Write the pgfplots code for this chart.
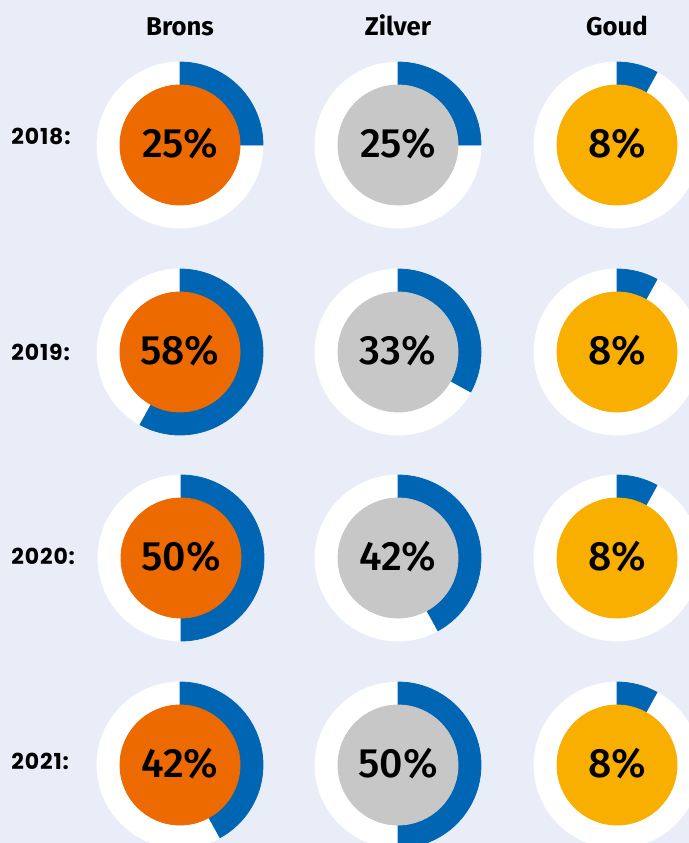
\documentclass[border=0pt]{standalone}
\usepackage{fontspec}
\setmainfont{Fira Sans}
\newfontfamily\yearfont{Poppins Bold}[LetterSpace=4]
\newfontfamily\pctfont{Fira Sans Medium}
\usepackage{pgfplots}
\usepackage{pgfplotstable}
\pgfplotsset{compat=1.18}

\definecolor{bgc}{HTML}{E9EDF8}
\definecolor{dblue}{HTML}{0066B3}
\definecolor{orng}{HTML}{EC6A00}
\definecolor{zilv}{HTML}{C6C7C6}
\definecolor{goud}{HTML}{F9AF00}

% donut centres in pixel units of the reference, p = percentage
\pgfplotstableread{
x y p
180 145 25
180 352 58
181 558 50
180 765 42
}\brons
\pgfplotstableread{
x y p
398 145 25
398 352 33
398 558 42
398 765 50
}\zilver
\pgfplotstableread{
x y p
617 145 8
617 352 8
617 558 8
617 765 8
}\goud

\pgfdeclareplotmark{void}{}

\pgfplotsset{donut/.style={
    scatter, only marks, mark=void,
    point meta=explicit symbolic,
    scatter/@pre marker code/.code={
        \pgfkeys{/pgf/fpu=false}
        \edef\pct{\pgfplotspointmeta}
        \fill[white] (0,0) circle[radius=41.5pt];
        \fill[dblue] (0,0) -- (0,41.5pt) arc[start angle=90, delta angle=-3.6*\pct, radius=41.5pt] -- cycle;
        \fill[#1] (0,0) circle[radius=30pt];
        \node[anchor=base, inner sep=0pt, font=\pctfont\fontsize{20.5}{21}\selectfont] at (0,-6.2pt) {\pct\%};
    },
    scatter/@post marker code/.code={}
}}

\begin{document}
\begin{tikzpicture}
\begin{axis}[
    x=0.5pt, y=0.5pt,
    xmin=0, xmax=689, ymin=0, ymax=843,
    y dir=reverse,
    axis line style={draw=none},
    ticks=none,
    axis background/.style={fill=bgc},
    clip marker paths=true,
]
\addplot[donut=orng] table[x=x, y=y, meta=p] {\brons};
\addplot[donut=zilv] table[x=x, y=y, meta=p] {\zilver};
\addplot[donut=goud] table[x=x, y=y, meta=p] {\goud};

\node[anchor=base, inner sep=0pt, font=\bfseries\fontsize{12.85}{13}\selectfont] at (axis cs:180,35) {Brons};
\node[anchor=base, inner sep=0pt, font=\bfseries\fontsize{12.85}{13}\selectfont] at (axis cs:398,35) {Zilver};
\node[anchor=base, inner sep=0pt, font=\bfseries\fontsize{12.85}{13}\selectfont] at (axis cs:617,35) {Goud};

\node[anchor=base west, inner sep=0pt, font=\yearfont\fontsize{11}{11}\selectfont] at (axis cs:11,144) {2018:};
\node[anchor=base west, inner sep=0pt, font=\yearfont\fontsize{11}{11}\selectfont] at (axis cs:11,360.5) {2019:};
\node[anchor=base west, inner sep=0pt, font=\yearfont\fontsize{11}{11}\selectfont] at (axis cs:11,564) {2020:};
\node[anchor=base west, inner sep=0pt, font=\yearfont\fontsize{11}{11}\selectfont] at (axis cs:11,769) {2021:};
\end{axis}
\end{tikzpicture}
\end{document}
